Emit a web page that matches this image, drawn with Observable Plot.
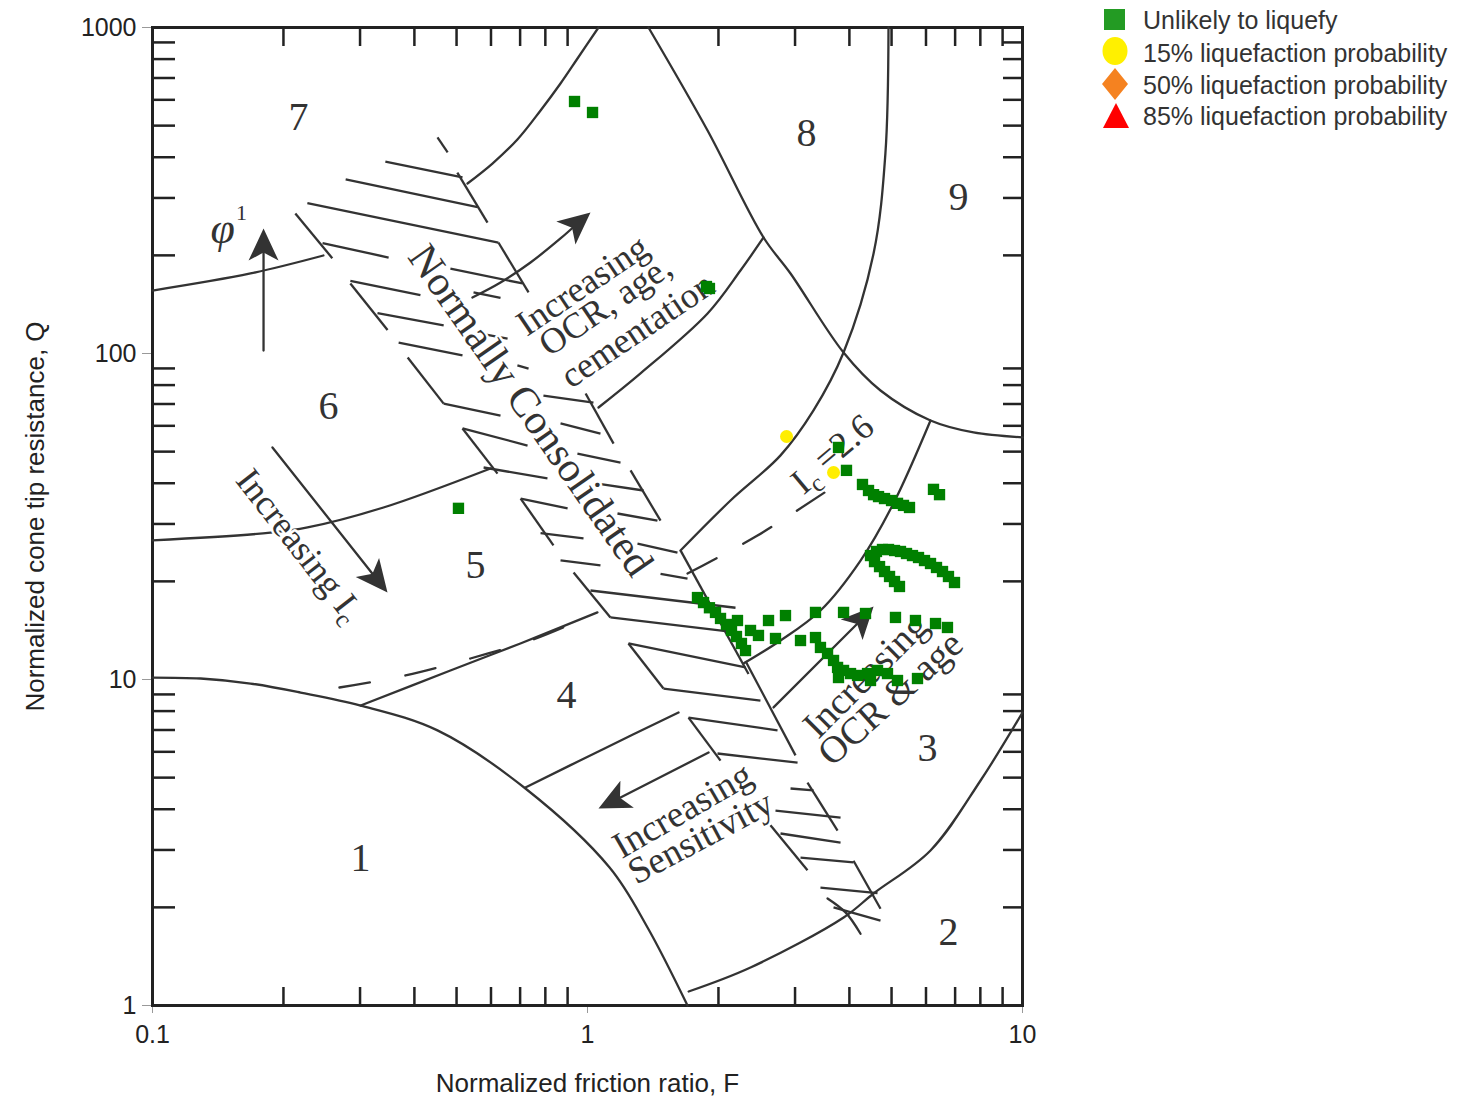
<!DOCTYPE html>
<html><head><meta charset="utf-8">
<script src="https://cdn.jsdelivr.net/npm/d3@7"></script>
<script src="https://cdn.jsdelivr.net/npm/@observablehq/plot@0.6"></script>
<style>
body{margin:0;background:#fff;}
#chart{position:absolute;left:0;top:0;}
#legend{position:absolute;left:1100px;top:0px;}
#legend text{font-family:"Liberation Sans",Arial,sans-serif;font-size:25px;fill:#333;}
</style></head><body>
<div id="chart"></div>
<svg id="legend" width="362" height="135">
  <rect x="4" y="9" width="21" height="21" fill="#239b23"/>
  <ellipse cx="15" cy="51" rx="12.5" ry="14" fill="#fff000"/>
  <path d="M15,68 L28,84 L15,100 L2,84 Z" fill="#f58220"/>
  <path d="M16,103 L29,128 L3,128 Z" fill="#ff0000"/>
  <text x="43" y="20" dominant-baseline="central">Unlikely to liquefy</text>
  <text x="43" y="53" dominant-baseline="central">15% liquefaction probability</text>
  <text x="43" y="85" dominant-baseline="central">50% liquefaction probability</text>
  <text x="43" y="116" dominant-baseline="central">85% liquefaction probability</text>
</svg>
<script>
// ---------- axis ticks ----------
const xMajor = [0.1, 1, 10];
const yMajor = [1, 10, 100, 1000];
const xMinor = [0.2,0.3,0.4,0.5,0.6,0.7,0.8,0.9,2,3,4,5,6,7,8,9];
const yMinor = [2,3,4,5,6,7,8,9,20,30,40,50,60,70,80,90,200,300,400,500,600,700,800,900];

// ---------- zone boundaries [F, Q] ----------
const zone1Top = [[0.1,10.14],[0.129,10.07],[0.168,9.72],[0.219,9.12],[0.301,8.32],[0.452,6.98],[0.720,4.63],[1.124,2.65],[1.374,1.735],[1.698,1.0]];
const zone2Top = [[1.708,1.104],[2.37,1.308],[3.88,1.862],[4.546,2.206],[6.145,2.99],[8.01,4.90],[10,7.92]];
const zone3Top = [[2.284,11.2],[2.778,13.17],[3.432,16.28],[4.243,23.17],[5.05,34.67],[6.145,62.3]];
const zone4Top = [[0.301,8.32],[0.484,10.66],[0.701,12.9],[1.054,16.06]];
const zone4TopDashed = [[0.269,9.45],[0.3817,10.29],[0.538,11.6],[0.7396,13.17],[0.890,14.54]];
const zone4Bottom = [[0.720,4.665],[1.071,6.06],[1.619,7.92]];
const zone5Top = [[0.1,26.7],[0.1867,28.2],[0.2272,29.26],[0.3396,33.7],[0.5984,44.4]];
const zone6Top = [[0.1,156],[0.168,176],[0.2471,199.8]];
const zone7Right = [[0.5298,332.3],[0.6046,382.6],[0.690,453.4],[0.780,556.5],[0.8668,673.2],[0.9484,803.3],[1.06,1000]];
const zone8Left = [[1.381,1000],[1.888,483],[2.539,226.9],[2.929,176],[3.878,100.7],[4.716,77.0],[6.145,62.3],[7.716,57.25],[10,55.3]];
const zone9Left = [[4.92,1000],[4.84,410.8],[4.546,202.6],[3.878,100.7],[3.308,66.9],[2.778,48.7],[2.132,35.4],[1.636,24.87]];
const ocrLine = [[1.06,68.3],[1.324,86.9],[1.888,132.7],[2.247,179.7],[2.539,226.9]];
const ic26Line = [[1.698,21.13],[2.459,27.65],[3.563,38.0]];

// ---------- normally consolidated hatching [F1,Q1,F2,Q2] ----------
const hatchSegments = [
 [0.452,460,0.477,414],[0.343,388,0.516,347],[0.502,359,0.589,252],[0.278,342,0.559,281],
 [0.227,289,0.624,219],[0.624,219,0.732,154],[0.213,269,0.259,196],[0.246,218,0.349,197],
 [0.484,182,0.709,164],[0.285,167,0.413,151],[0.285,164,0.347,118],[0.329,133,0.467,122],
 [0.547,154,0.631,148],[0.368,108,0.516,98.6],[0.386,97.2,0.467,70.2],[0.467,70.2,0.631,64.5],
 [0.568,115,0.655,111],[0.690,91.9,0.732,89.9],[0.792,74.3,1.032,70.7],[0.990,75.4,1.148,52.9],
 [0.867,61.0,1.071,56.8],[0.948,49.3,1.191,46.3],[1.054,39.9,1.345,38.0],[1.256,43.8,1.472,30.7],
 [0.516,58.9,0.728,52.2],[0.516,58.9,0.621,42.8],[0.577,44.7,0.809,41.4],[0.702,35.9,0.900,33.5],
 [0.702,35.9,0.835,25.8],[0.780,28.1,0.979,27.1],[1.172,32.3,1.448,30.7],[1.303,26.1,1.610,24.5],
 [0.867,23.2,1.071,22.4],[0.929,21.3,1.129,15.5],[1.016,18.75,2.189,16.6],[1.129,15.5,2.247,13.9],
 [1.472,21.1,1.698,20.4],[1.636,24.9,2.345,10.4],[1.242,12.9,2.308,10.9],[1.242,12.9,1.495,9.38],
 [1.495,9.38,2.498,8.62],[2.308,11.4,3.007,5.85],[1.707,7.64,2.022,5.64],[1.707,7.64,2.734,6.98],
 [1.99,5.93,3.04,5.56],[2.929,4.63,3.308,4.57],[3.204,4.83,3.757,3.44],[2.705,3.96,3.817,3.77],
 [2.634,3.57,3.204,2.60],[2.778,3.37,3.817,3.16],[3.088,2.84,4.088,2.75],[4.088,2.78,4.716,1.98],
 [3.432,2.30,4.642,2.21],[3.678,2.00,4.716,1.82]
];
const hatchArc = [[3.563,2.13],[3.919,1.93],[4.243,1.66]];

// ---------- labels ----------
const zoneNumbers = ["1","2","3","4","5","6","7","8","9"];
const zoneNumberF = [0.3007,6.758,6.049,0.895,0.5527,0.2539,0.2166,3.188,7.128];
const zoneNumberQ = [2.825,1.675,6.14,8.93,22.4,68.8,529.7,473,301];

const noteIds   = ["nc","ocr1","ocr2","ocr3","ic","ic26","oa1","oa2","sen1","sen2"];
const noteTexts = ["Normally Consolidated","Increasing","OCR, age,","cementation","Increasing I_c","I_c =2.6","Increasing","OCR & age","Increasing","Sensitivity"];
const noteF     = [0.7396,0.974,1.10,1.303,0.2178,3.678,4.356,4.973,1.653,1.819];
const noteQ     = [66.9,161.7,140.4,117.7,25.8,48.7,10.29,8.745,3.965,3.276];

const phiLabel = [{t:"φ", F:0.1449, Q:241.7}];
const phiSup = [{t:"1", F:0.1602, Q:270.7}];

// ---------- arrows (shaft points..., tip) ----------
const arrowPhi = [[0.18,102.1],[0.18,215],[0.18,241.7]];
const arrowOCR = [[0.5438,148.5],[0.631,165.1],[0.7396,190.2],[0.8668,225.4],[0.9535,252.3],[1.016,270.7]];
const arrowIc = [[0.1887,51.5],[0.3204,21.1],[0.3469,18.5]];
const arrowOCRage = [[2.677,8.21],[4.198,14.96],[4.546,16.75]];
const arrowSens = [[1.898,5.97],[1.191,4.345],[1.06,4.02]];

// ---------- data points ----------
const unlikelyF = [0.9336,1.027,1.877,1.907,0.5051,3.776,3.939,
 4.287,4.426,4.546,4.667,4.817,5.0,5.16,5.326,5.498,6.243,6.445,
 4.473,4.617,4.766,4.92,5.079,5.242,5.412,5.586,5.767,5.953,6.145,6.343,6.548,6.758,6.977,
 4.569,4.692,4.817,4.947,5.079,5.214,
 1.79,1.848,1.907,1.969,2.022,2.087,2.143,2.2,2.259,2.308,2.212,2.37,2.472,2.607,2.852,2.705,3.088,3.343,3.878,4.356,5.105,5.675,6.31,6.722,
 3.343,3.432,3.563,3.678,3.757,3.878,4.024,4.176,4.403,4.642,4.894,5.16,5.736,3.776,4.473];
const unlikelyQ = [593,548.7,160.5,158.3,33.5,51.5,43.8,
 39.65,38.0,36.9,36.4,35.9,35.4,34.7,34.2,33.7,38.3,36.9,
 24.0,24.7,25.05,25.05,24.87,24.7,24.35,24.0,23.67,23.17,22.69,22.06,21.44,20.7,19.84,
 23.0,22.2,21.44,20.7,19.98,19.29,
 17.84,17.22,16.6,16.06,15.39,14.75,14.14,13.55,12.9,12.27,15.17,14.14,13.65,15.17,15.71,13.36,13.17,16.06,16.06,15.94,15.5,15.17,14.85,14.44,
 13.45,12.54,12.02,11.44,10.89,10.66,10.43,10.29,10.43,10.66,10.43,9.93,10.07,10.14,9.93];
const prob15F = [2.868,3.678];
const prob15Q = [55.65,43.15];
const prob50F = [], prob50Q = [];
const prob85F = [], prob85Q = [];

// ---------- build ----------
const W = 1040, H = 1101, ML = 152, MR = 18, MT = 27, MB = 96;
const INK = "#333";
const sx = Plot.scale({x: {type: "log", domain: [0.1, 10], range: [ML, W - MR]}});
const sy = Plot.scale({y: {type: "log", domain: [1, 1000], range: [H - MB, MT]}});

const solidLines = [zone1Top, zone2Top, zone3Top, zone4Top, zone4Bottom, zone5Top, zone6Top, zone7Right, zone8Left, zone9Left, ocrLine, hatchArc]
  .flatMap((pts, i) => pts.map(([F, Q]) => ({F, Q, id: i})));
const dashedA = zone4TopDashed.map(([F, Q]) => ({F, Q}));
const dashedB = ic26Line.map(([F, Q]) => ({F, Q}));
const hatchRows = hatchSegments.map(([F1, Q1, F2, Q2]) => ({F1, Q1, F2, Q2}));

const zoneRows = zoneNumbers.map((t, i) => ({t, F: zoneNumberF[i], Q: zoneNumberQ[i]}));
const noteRows = noteIds.map((id, i) => ({id, t: noteTexts[i], F: noteF[i], Q: noteQ[i]}));
const noteAngle = {nc: 55, ocr1: -34, ocr2: -34, ocr3: -34, ic: 52, ic26: -40, oa1: -45, oa2: -42, sen1: -30, sen2: -28};
const noteSize = {nc: 42, ocr1: 36, ocr2: 36, ocr3: 36, ic: 36, ic26: 36, oa1: 38, oa2: 38, sen1: 37, sen2: 37};
const haloIds = new Set(["nc", "ic"]);

const arrows = [arrowPhi, arrowOCR, arrowIc, arrowOCRage, arrowSens];
const shaftRows = arrows.flatMap((a, i) => a.slice(0, -1).map(([F, Q]) => ({F, Q, id: i})));
const tipRows = arrows.map(a => {
  const [F1, Q1] = a[a.length - 2], [F2, Q2] = a[a.length - 1];
  const dx = sx.apply(F2) - sx.apply(F1), dy = sy.apply(Q2) - sy.apply(Q1);
  return {F: F2, Q: Q2, angle: Math.atan2(dx, -dy) * 180 / Math.PI};
});
const stealth = {draw(ctx) { ctx.moveTo(0, 0); ctx.lineTo(-15, 32); ctx.lineTo(0, 24); ctx.lineTo(15, 32); ctx.closePath(); }};

const unlikelyRows = unlikelyF.map((F, i) => ({F, Q: unlikelyQ[i]}));
const p15Rows = prob15F.map((F, i) => ({F, Q: prob15Q[i]}));
const p50Rows = prob50F.map((F, i) => ({F, Q: prob50Q[i]}));
const p85Rows = prob85F.map((F, i) => ({F, Q: prob85Q[i]}));

const serif = "'Liberation Serif','Times New Roman',serif";
const blank = () => "";
const noteMarks = noteRows.map(r => Plot.text([r], {
  x: "F", y: "Q", text: "t", rotate: noteAngle[r.id], fontSize: noteSize[r.id],
  fontFamily: serif, fill: INK,
  ...(haloIds.has(r.id) ? {stroke: "white", strokeWidth: 5} : {})
}));

const chart = Plot.plot({
  width: W, height: H,
  marginLeft: ML, marginRight: MR, marginTop: MT, marginBottom: MB,
  style: {background: "white", fontFamily: "'Liberation Sans',Arial,sans-serif", color: "#222"},
  x: {type: "log", domain: [0.1, 10]},
  y: {type: "log", domain: [1, 1000]},
  marks: [
    // inner minor ticks on all four sides
    Plot.axisX(xMinor, {anchor: "bottom", tickSize: -18, tickFormat: blank, label: null, stroke: "#222", strokeWidth: 2.5}),
    Plot.axisX(xMinor, {anchor: "top", tickSize: -18, tickFormat: blank, label: null, stroke: "#222", strokeWidth: 2.5}),
    Plot.axisY(yMinor, {anchor: "left", tickSize: -23, tickFormat: blank, label: null, stroke: "#222", strokeWidth: 2.5}),
    Plot.axisY(yMinor, {anchor: "right", tickSize: -20, tickFormat: blank, label: null, stroke: "#222", strokeWidth: 2.5}),
    // labelled major ticks
    Plot.axisX(xMajor, {anchor: "bottom", tickSize: 8, tickPadding: 12, tickFormat: d => String(d), label: null, stroke: "#999", fill: "#222", fontSize: 25}),
    Plot.axisY(yMajor, {anchor: "left", tickSize: 10, tickPadding: 6, tickFormat: d => String(d), label: null, stroke: "#999", fill: "#222", fontSize: 25}),
    Plot.frame({stroke: "#222", strokeWidth: 3}),
    // zone boundaries
    Plot.line(solidLines, {x: "F", y: "Q", z: "id", curve: "catmull-rom", stroke: INK, strokeWidth: 2.3}),
    Plot.line(dashedA, {x: "F", y: "Q", curve: "catmull-rom", stroke: INK, strokeWidth: 2.3, strokeDasharray: "31,36"}),
    Plot.line(dashedB, {x: "F", y: "Q", curve: "catmull-rom", stroke: INK, strokeWidth: 2.3, strokeDasharray: "33,30"}),
    Plot.link(hatchRows, {x1: "F1", y1: "Q1", x2: "F2", y2: "Q2", stroke: INK, strokeWidth: 2.3}),
    // text
    Plot.text(zoneRows, {x: "F", y: "Q", text: "t", fontSize: 40, fontFamily: serif, fill: INK}),
    ...noteMarks,
    Plot.text(phiLabel, {x: "F", y: "Q", text: "t", fontSize: 44, fontStyle: "italic", fontFamily: serif, fill: INK}),
    Plot.text(phiSup, {x: "F", y: "Q", text: "t", fontSize: 22, fontFamily: serif, fill: INK}),
    // arrows
    Plot.line(shaftRows, {x: "F", y: "Q", z: "id", curve: "catmull-rom", stroke: INK, strokeWidth: 2.3}),
    Plot.dot(tipRows, {x: "F", y: "Q", rotate: "angle", symbol: stealth, r: 5, fill: INK, stroke: "none"}),
    // data
    Plot.dot(unlikelyRows, {x: "F", y: "Q", symbol: "square", r: 6.4, fill: "#008000"}),
    Plot.dot(p15Rows, {x: "F", y: "Q", symbol: "circle", r: 6.5, fill: "#ffee00"}),
    Plot.dot(p50Rows, {x: "F", y: "Q", symbol: "diamond", r: 6.5, fill: "#f58220"}),
    Plot.dot(p85Rows, {x: "F", y: "Q", symbol: "triangle", r: 6.5, fill: "#ff0000"}),
    // axis titles
    Plot.text(["Normalized friction ratio, F"], {frameAnchor: "bottom", textAnchor: "middle", lineAnchor: "middle", dy: 78, fontSize: 26, fill: "#222"}),
    Plot.text(["Normalized cone tip resistance, Q"], {frameAnchor: "left", textAnchor: "middle", lineAnchor: "middle", dx: -117, rotate: -90, fontSize: 26, fill: "#222"})
  ]
});

// subscript "c" in I_c labels
d3.select(chart).selectAll("text").each(function() {
  const t = this.textContent;
  if (t.includes("_c")) {
    const [a, b] = t.split("_c");
    const el = d3.select(this);
    el.text(null);
    el.append("tspan").text(a);
    el.append("tspan").attr("dy", "0.3em").attr("font-size", "70%").text("c");
    if (b) el.append("tspan").attr("dy", "-0.3em").text(b);
  }
});

document.getElementById("chart").appendChild(chart);
</script>
</body></html>
